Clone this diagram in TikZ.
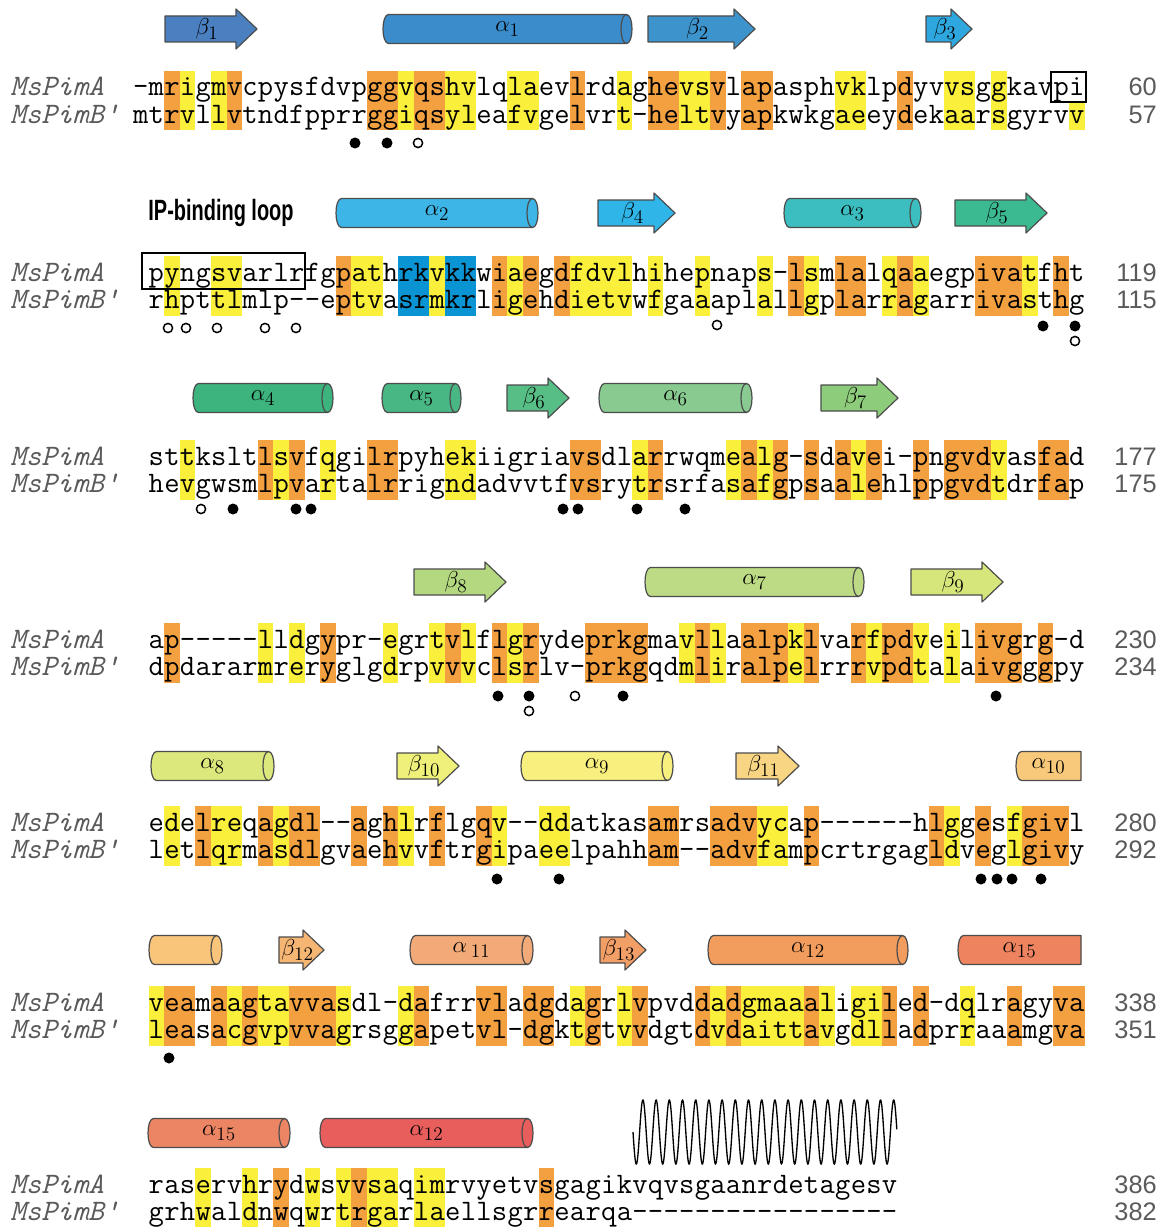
\documentclass[tikz,border=0pt]{standalone}
\usepackage{fontspec}
\setsansfont{Liberation Sans}
\definecolor{hlO}{HTML}{F3A040}
\definecolor{hlY}{HTML}{FAF03C}
\definecolor{hlB}{HTML}{0A94D4}
\definecolor{lblgray}{HTML}{5A5A5A}
\definecolor{cB1}{HTML}{4A7FC0}
\definecolor{cA1}{HTML}{3A8CCB}
\definecolor{cB2}{HTML}{3D94CD}
\definecolor{cB3}{HTML}{2EA7DF}
\definecolor{cA2}{HTML}{3DB5E6}
\definecolor{cB4}{HTML}{2FB5E8}
\definecolor{cA3}{HTML}{3CBDBF}
\definecolor{cB5}{HTML}{3BB991}
\definecolor{cA4}{HTML}{3DB37D}
\definecolor{cA5}{HTML}{48B784}
\definecolor{cB6}{HTML}{57BE86}
\definecolor{cA6}{HTML}{88CA90}
\definecolor{cB7}{HTML}{8DCC7A}
\definecolor{cB8}{HTML}{B3D87F}
\definecolor{cA7}{HTML}{BCDB84}
\definecolor{cB9}{HTML}{D7E67B}
\definecolor{cA8}{HTML}{DCE77C}
\definecolor{cB10}{HTML}{EEF07A}
\definecolor{cA9}{HTML}{F8F07E}
\definecolor{cB11}{HTML}{F8D583}
\definecolor{cA10}{HTML}{F8C97B}
\definecolor{cA10b}{HTML}{F8C57A}
\definecolor{cB12}{HTML}{F6B673}
\definecolor{cA11}{HTML}{F2AA78}
\definecolor{cB13}{HTML}{F29E67}
\definecolor{cA12}{HTML}{F29C5E}
\definecolor{cA15}{HTML}{EE845F}
\definecolor{cA15b}{HTML}{EC8564}
\definecolor{cA12b}{HTML}{E75E5C}
\newcommand\seqfont{\ttfamily\fontsize{22.29pt}{24pt}\selectfont}
\newcommand\namefont{\ttfamily\itshape\fontsize{22.29pt}{24pt}\selectfont}
\newcommand\numfont{\sffamily\fontsize{19pt}{22pt}\selectfont}
\newcommand\ssfont{\fontsize{19pt}{22pt}\selectfont}
\newcount\seqc
\makeatletter
\def\seqrow#1#2#3#4{\global\seqc=#3\relax\def\seqnm{#1}\def\seqy{#2}\seq@loop#4\relax}
\def\seq@loop#1{\ifx\relax#1\else\seq@put{#1}\expandafter\seq@loop\fi}
\def\seq@put#1{\node[res] (\seqnm\the\seqc) at ({140.8+15.6*\the\seqc},\seqy) {#1};\global\advance\seqc by 1\relax}
\makeatother
\tikzset{
  res/.style={font=\seqfont, inner sep=0pt, anchor=base},
  seqname/.style={font=\namefont, text=lblgray, inner sep=0pt, anchor=base west},
  seqnum/.style={font=\numfont, text=lblgray, inner sep=0pt, anchor=base east},
  ssline/.style={draw=black!70, line width=0.9pt, line join=round},
  sslabel/.style={font=\ssfont, inner sep=0pt},
  fdot/.style={fill=black},
  odot/.style={draw=black, line width=1.1pt, fill=white},
  seqbox/.style={draw=black, line width=1.6pt},
}
% column bands
\newcommand\bands[4]{\foreach \c in {#4} {\fill[#1] ({133+15.6*\c},#2) rectangle ({133+15.6*(\c+1)},#3);}}
% cylinder: name, x1, x2, yc, colour, label
\newcommand\cyl[6]{%
  \pgfmathsetmacro\cyA{#2+5.5}\pgfmathsetmacro\cyB{#3-5.5}%
  \pgfmathsetmacro\cyL{#2-1.83}\pgfmathsetmacro\cyR{#3+1.83}%
  \pgfmathsetmacro\cyI{#3-12.83}%
  \pgfmathsetmacro\cyT{#4-14.5}\pgfmathsetmacro\cyBo{#4+14.5}%
  \draw[ssline, fill=#5] (\cyB,\cyT) -- (\cyA,\cyT) .. controls (\cyL,\cyT) and (\cyL,\cyBo) .. (\cyA,\cyBo) -- (\cyB,\cyBo) .. controls (\cyR,\cyBo) and (\cyR,\cyT) .. (\cyB,\cyT) -- cycle;
  \draw[ssline] (\cyB,\cyT) .. controls (\cyI,\cyT) and (\cyI,\cyBo) .. (\cyB,\cyBo);
  \node[sslabel] (#1) at ({(#2+#3)/2},#4) {#6};
}
% open-ended cylinder (flat right end)
\newcommand\cylopen[6]{%
  \pgfmathsetmacro\cyA{#2+5.5}\pgfmathsetmacro\cyL{#2-1.83}%
  \pgfmathsetmacro\cyT{#4-14.5}\pgfmathsetmacro\cyBo{#4+14.5}%
  \draw[ssline, fill=#5] (#3,\cyT) -- (\cyA,\cyT) .. controls (\cyL,\cyT) and (\cyL,\cyBo) .. (\cyA,\cyBo) -- (#3,\cyBo) -- cycle;
  \node[sslabel] (#1) at ({(#2+#3)/2},#4) {#6};
}
% strand arrow: name, x1, x2, yc, colour, label
\newcommand\strand[6]{%
  \pgfmathsetmacro\stH{#3-21}%
  \pgfmathsetmacro\stT{#4-13}\pgfmathsetmacro\stB{#4+13}%
  \pgfmathsetmacro\stTT{#4-20}\pgfmathsetmacro\stBB{#4+20}%
  \draw[ssline, fill=#5] (#2,\stT) -- (\stH,\stT) -- (\stH,\stTT) -- (#3,#4) -- (\stH,\stBB) -- (\stH,\stB) -- (#2,\stB) -- cycle;
  \node[sslabel] (#1) at ({(#2+#3)/2-4},#4) {#6};
}
\begin{document}
\begin{tikzpicture}[x=0.75pt,y=-0.75pt]
\useasboundingbox (0,0) rectangle (1166,1227);

% ---------------- Block 1 ----------------
\bands{hlO}{71}{130.5}{2,6,15,16,18,19,28,33,34,37,39,40,49}
\bands{hlY}{71}{130.5}{3,5,17,20,21,24,25,31,35,36,45,46,52,53,55}
\fill[hlY] ({133+15.6*60},102) rectangle ({133+15.6*61},130.5);
\draw[seqbox] (1051,72) rectangle (1086,102);
\strand{b1}{165}{257}{29}{cB1}{$\beta_{1}$}
\cyl{a1}{383}{632}{29}{cA1}{$\alpha_{1}$}
\strand{b2}{648}{755}{29}{cB2}{$\beta_{2}$}
\strand{b3}{926}{972}{29}{cB3}{$\beta_{3}$}
\node[seqname] (n1a) at (10,96) {MsPimA};
\node[seqname] (n1b) at (10,123.5) {MsPimB'};
\seqrow{s1a}{96}{0}{-mrigmvcpysfdvpggvqshvlqlaevlrdaghevsvlapasphvklpdyvvsggkavpi}
\seqrow{s1b}{123.5}{0}{mtrvllvtndfpprrggiqsyleafvgelvrt-heltvyapkwkgaeeydekaarsgyrvv}
\node[seqnum] (c1a) at (1157,96) {60};
\node[seqnum] (c1b) at (1157,123.5) {57};
\fill[fdot] (355,143) circle (5.5);
\fill[fdot] (387,143) circle (5.5);
\draw[odot] (418,143) circle (4.6);

% ---------------- Block 2 ----------------
\bands{hlO}{256}{315.5}{13,23,25,27,42,45,46,49,54,55,56,59}
\bands{hlY}{256}{315.5}{2,5,6,14,15,19,24,28,29,30,31,33,36,40,43,48,50,57}
\bands{hlB}{256}{315.5}{17,18,20,21}
\draw[seqbox] (142,253) rectangle (304.6,289);
\node[font=\sffamily\bfseries\fontsize{22pt}{24pt}\selectfont, xscale=0.68, inner sep=0pt] (iploop) at (221,213) {IP-binding loop};
\cyl{a2}{336}{538}{213}{cA2}{$\alpha_{2}$}
\strand{b4}{598}{675}{213}{cB4}{$\beta_{4}$}
\cyl{a3}{784}{921}{213}{cA3}{$\alpha_{3}$}
\strand{b5}{955}{1047}{213}{cB5}{$\beta_{5}$}
\node[seqname] (n2a) at (10,281) {MsPimA};
\node[seqname] (n2b) at (10,308.5) {MsPimB'};
\seqrow{s2a}{281}{1}{pyngsvarlrfgpathrkvkkwiaegdfdvlhihepnaps-lsmlalqaaegpivatfht}
\seqrow{s2b}{308.5}{1}{rhpttlmlp--eptvasrmkrligehdietvwfgaaaplallgplarragarrivasthg}
\node[seqnum] (c2a) at (1157,281) {119};
\node[seqnum] (c2b) at (1157,308.5) {115};
\foreach \xx in {168,186,217,265,296} {\draw[odot] (\xx,328) circle (4.6);}
\draw[odot] (717,325) circle (4.6);
\fill[fdot] (1043,326) circle (5.5);
\fill[fdot] (1075,326) circle (5.5);
\draw[odot] (1075,341) circle (4.6);

% ---------------- Block 3 ----------------
\bands{hlO}{440}{499.5}{8,10,15,16,28,29,33,39,41,43,45,47,50,52,53,54,58,59}
\bands{hlY}{440}{499.5}{3,9,12,20,21,32,38,40,46,55}
\cyl{a4}{193}{333}{398}{cA4}{$\alpha_{4}$}
\cyl{a5}{382}{461}{398}{cA5}{$\alpha_{5}$}
\strand{b6}{507}{569}{398}{cB6}{$\beta_{6}$}
\cyl{a6}{599}{752}{398}{cA6}{$\alpha_{6}$}
\strand{b7}{821}{898}{398}{cB7}{$\beta_{7}$}
\node[seqname] (n3a) at (10,465) {MsPimA};
\node[seqname] (n3b) at (10,492.5) {MsPimB'};
\seqrow{s3a}{465}{1}{sttksltlsvfqgilrpyhekiigriavsdlarrwqmealg-sdavei-pngvdvasfad}
\seqrow{s3b}{492.5}{1}{hevgwsmlpvartalrrigndadvvtfvsrytrsrfasafgpsaalehlppgvdtdrfap}
\node[seqnum] (c3a) at (1157,465) {177};
\node[seqnum] (c3b) at (1157,492.5) {175};
\draw[odot] (201,509) circle (4.6);
\foreach \xx in {233,296,311,563,578,637,685} {\fill[fdot] (\xx,509) circle (5.5);}

% ---------------- Block 4 ----------------
\bands{hlO}{623}{682.5}{2,12,20,23,25,29,30,31,32,36,39,40,41,43,46,48,49,54,55,56,58}
\bands{hlY}{623}{682.5}{8,10,16,19,21,24,35,37,42,47,50,52}
\strand{b8}{414}{506}{582}{cB8}{$\beta_{8}$}
\cyl{a7}{645}{864}{582}{cA7}{$\alpha_{7}$}
\strand{b9}{911}{1003}{582}{cB9}{$\beta_{9}$}
\node[seqname] (n4a) at (10,648) {MsPimA};
\node[seqname] (n4b) at (10,675.5) {MsPimB'};
\seqrow{s4a}{648}{1}{ap-----lldgypr-egrtvlflgrydeprkgmavllaalpklvarfpdveilivgrg-d}
\seqrow{s4b}{675.5}{1}{dpdararmrerygl gdrpvvvclsrlv-prkgqdmliralpelrrrvpdtalaivgggpy}
\node[seqnum] (c4a) at (1157,648) {230};
\node[seqnum] (c4b) at (1157,675.5) {234};
\foreach \xx in {498,529,623,996} {\fill[fdot] (\xx,696) circle (5.5);}
\draw[odot] (529,711) circle (4.6);
\draw[odot] (575,696) circle (4.6);

% ---------------- Block 5 ----------------
\bands{hlO}{806}{865.5}{4,8,10,11,14,16,19,22,33,34,37,38,39,43,51,54,57,58,59}
\bands{hlY}{806}{865.5}{2,5,6,9,17,23,26,27,40,41,52,56}
\cyl{a8}{151}{274}{766}{cA8}{$\alpha_{8}$}
\strand{b10}{397}{459}{766}{cB10}{$\beta_{10}$}
\cyl{a9}{521}{673}{766}{cA9}{$\alpha_{9}$}
\strand{b11}{736}{799}{766}{cB11}{$\beta_{11}$}
\cylopen{a10}{1016}{1081}{766}{cA10}{$\alpha_{10}$}
\node[seqname] (n5a) at (10,831) {MsPimA};
\node[seqname] (n5b) at (10,858.5) {MsPimB'};
\seqrow{s5a}{831}{1}{edelreqagdl--aghlrflgqv--ddatkasamrsadvycap------hlggesfgivl}
\seqrow{s5b}{858.5}{1}{letlqrmasdlgvaehvvftrgipaeelpahham--advfampcrtrgagldveglgivy}
\node[seqnum] (c5a) at (1157,831) {280};
\node[seqnum] (c5b) at (1157,858.5) {292};
\foreach \xx in {497,559,981,997,1012,1041} {\fill[fdot] (\xx,879) circle (5.5);}

% ---------------- Block 6 ----------------
\bands{hlO}{986}{1045.5}{2,3,5,7,10,11,12,18,22,23,25,26,29,32,36,38,43,48,50,56,59,60}
\bands{hlY}{986}{1045.5}{1,6,8,9,13,17,28,31,37,39,40,41,42,44,46,47,53}
\cyl{a10b}{149}{222}{950}{cA10b}{}
\strand{b12}{279}{324}{950}{cB12}{$\beta_{12}$}
\cyl{a11}{410}{533}{950}{cA11}{$\alpha\,_{11}$}
\strand{b13}{600}{646}{950}{cB13}{$\beta_{13}$}
\cyl{a12}{708}{908}{950}{cA12}{$\alpha_{12}$}
\cylopen{a15}{958}{1081}{950}{cA15}{$\alpha_{15}$}
\node[seqname] (n6a) at (10,1011) {MsPimA};
\node[seqname] (n6b) at (10,1038.5) {MsPimB'};
\seqrow{s6a}{1011}{1}{veamaagtavvasdl-dafrrvladgdagrlvpvddadgmaaaligiled-dqlragyva}
\seqrow{s6b}{1038.5}{1}{leasacgvpvvagrsggapetvl-dgktgtvvdgtdvdaittavgdlladprraaamgva}
\node[seqnum] (c6a) at (1157,1011) {338};
\node[seqnum] (c6b) at (1157,1038.5) {351};
\fill[fdot] (169,1058) circle (5.5);

% ---------------- Block 7 ----------------
\bands{hlO}{1168}{1227}{9,14,26}
\bands{hlY}{1168}{1227}{4,7,11,13,15,16,18,19}
\cyl{a15b}{148}{290}{1133}{cA15b}{$\alpha_{15}$}
\cyl{a12b}{320}{533}{1133}{cA12b}{$\alpha_{12}$}
\draw[line width=1pt] plot[domain=0:20, samples=900, smooth] ({633+13.2*\x}, {1132+32*sin(360*\x)});
\node[seqname] (n7a) at (10,1193) {MsPimA};
\node[seqname] (n7b) at (10,1220.5) {MsPimB'};
\seqrow{s7a}{1193}{1}{raservhrydwsvvsaqimrvyetvsgagikvqvsgaanrdetagesv}
\seqrow{s7b}{1220.5}{1}{grhwaldnwqwrtrgarlaellsgrrearqa-----------------}
\node[seqnum] (c7a) at (1157,1193) {386};
\node[seqnum] (c7b) at (1157,1220.5) {382};
\end{tikzpicture}
\end{document}
